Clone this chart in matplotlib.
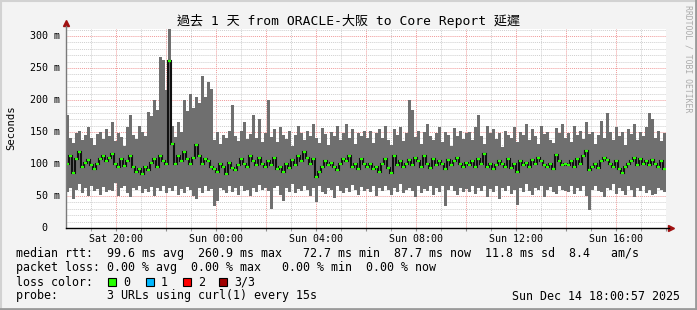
import numpy as np
import matplotlib
matplotlib.use("Agg")
import matplotlib.pyplot as plt
from matplotlib.transforms import Affine2D, blended_transform_factory, offset_copy
from matplotlib.patches import Rectangle
from matplotlib.lines import Line2D

# ---------------- data (ms), 200 buckets over 24 h ----------------
upper = [176, 140, 133, 148, 152, 137, 145, 158, 141, 130, 147, 150, 139, 155, 144, 166, 136, 149, 142, 128,
         158, 176, 146, 139, 160, 150, 143, 182, 175, 200, 185, 268, 262,
         215, 311, 160, 142, 165, 150, 200, 183, 210, 188, 205, 196, 237, 204, 228, 218, 138, 150, 131, 146,
         140, 152, 192, 144, 136, 151, 165, 139, 147, 176, 141, 170, 135, 149,
         200, 142, 155, 134, 158, 146, 139, 151, 128, 145, 160, 149, 137, 152, 143, 162, 140, 133, 156, 147,
         129, 150, 144, 160, 138, 148, 162, 141, 155, 131, 148, 143, 152,
         140, 152, 133, 148, 155, 141, 160, 138, 129, 155, 146, 158, 136, 148, 200, 184, 142, 152, 131, 150,
         162, 144, 137, 149, 158, 135, 150, 145, 128, 156, 143, 152, 139, 148,
         150, 137, 158, 176, 144, 132, 160, 148, 155, 139, 148, 127, 152, 146, 141, 158, 134, 150, 145, 162,
         138, 155, 143, 131, 160, 147, 150, 138, 133, 156, 149, 162, 140,
         148, 135, 160, 145, 152, 139, 165, 147, 150, 132, 146, 168, 141, 179, 150, 137, 158, 144, 150, 130,
         155, 147, 162, 138, 150, 143, 158, 179, 170, 141, 152, 136, 148]
lower = [57, 62, 45, 60, 68, 55, 63, 50, 66, 58, 61, 52, 64, 56, 60, 58, 70, 50, 62, 65,
         55, 48, 63, 60, 66, 54, 61, 57, 64, 50, 62, 58, 66,
         55, 62, 58, 66, 52, 61, 55, 64, 60, 50, 45, 62, 55, 65, 58, 61, 35, 42, 63, 60,
         54, 66, 57, 62, 51, 65, 58, 60, 50, 63, 56, 67, 60, 62,
         58, 30, 62, 66, 52, 42, 63, 57, 68, 54, 61, 58, 65, 60, 50, 62, 40, 66, 56, 53,
         63, 60, 47, 65, 58, 54, 62, 56, 67, 60, 52, 64, 58,
         61, 56, 66, 50, 62, 58, 65, 60, 52, 63, 57, 68, 54, 60, 62, 58, 49, 65, 54, 61,
         58, 66, 52, 62, 56, 65, 34, 60, 66, 58, 52, 63, 57, 61,
         56, 65, 53, 62, 58, 66, 49, 61, 57, 65, 45, 62, 58, 66, 53, 60, 36, 63, 56, 68,
         58, 51, 62, 60, 66, 49, 60, 64, 56, 53, 65, 60, 58,
         56, 65, 53, 62, 58, 66, 50, 28, 60, 65, 58, 56, 49, 63, 60, 68, 53, 62, 58, 51,
         65, 60, 48, 62, 58, 66, 55, 60, 51, 53, 63, 60, 56]
median = [100, 112, 86, 108, 118, 95, 102, 106, 98, 92, 100, 108, 112, 104, 110, 115, 100, 95, 108, 97,
          104, 112, 96, 88, 92, 85, 95, 90, 102, 108, 96, 112, 105,
          100, 261, 131, 100, 112, 105, 118, 108, 100, 110, 130, 112, 100, 108, 104, 96, 92, 88, 100, 96,
          85, 102, 94, 90, 98, 108, 100, 95, 112, 104, 98, 110, 100, 96,
          104, 98, 110, 92, 96, 88, 100, 93, 106, 98, 112, 104, 118, 110, 100, 108, 80, 88, 96, 104,
          98, 102, 96, 90, 100, 108, 104, 112, 96, 100, 92, 108, 100,
          95, 100, 92, 96, 88, 100, 108, 94, 86, 112, 98, 104, 96, 100, 106, 98, 110, 104, 96, 112,
          100, 94, 108, 98, 104, 100, 92, 106, 98, 104, 110, 100, 96, 102,
          98, 104, 96, 108, 100, 116, 96, 100, 92, 98, 104, 100, 96, 108, 94, 100, 88, 104, 98, 102,
          96, 106, 100, 110, 104, 98, 96, 100, 92, 114, 104, 98, 100,
          98, 104, 96, 108, 100, 112, 120, 90, 96, 100, 94, 104, 110, 106, 100, 96, 104, 92, 86, 96,
          100, 104, 110, 98, 108, 100, 104, 98, 106, 100, 96, 104, 92]

start_clock = (18, 0, 57)           # Sat 18:00:57
span_hours = 24
major_hours = [20, 22, 0, 2, 4, 6, 8, 10, 12, 14, 16, 18]
minor_hours = [19, 21, 23, 1, 3, 5, 7, 9, 11, 13, 15, 17]
xtick_text = {20: "Sat 20:00", 0: "Sun 00:00", 4: "Sun 04:00", 8: "Sun 08:00",
              12: "Sun 12:00", 16: "Sun 16:00"}
ytick_vals = [0, 50, 100, 150, 200, 250, 300]
ytick_labels = ["0", "50 m", "100 m", "150 m", "200 m", "250 m", "300 m"]

title = "過去 1 天 from ORACLE-大阪 to Core Report 延遲"
legend_rtt = "median rtt:  99.6 ms avg  260.9 ms max   72.7 ms min  87.7 ms now  11.8 ms sd  8.4   am/s"
legend_loss = "packet loss: 0.00 % avg  0.00 % max   0.00 % min  0.00 % now"
loss_names = ["0", "1", "2", "3/3"]
loss_colors = ["#26ff00", "#00b8ff", "#ff0000", "#a00000"]
probe_text = "probe:       3 URLs using curl(1) every 15s"
stamp_text = "Sun Dec 14 18:00:57 2025"

# ---------------- figure ----------------
W, H = 697, 310
fig = plt.figure(figsize=(W / 100, H / 100), dpi=100, facecolor="#f3f3f3")
px = Affine2D().scale(1 / W, -1 / H).translate(0, 1) + fig.transFigure

MONO = ["DejaVu Sans Mono", "Noto Sans CJK TC"]

ax = fig.add_axes([66 / W, 1 - 228 / H, 600 / W, 199 / H])
ax.set_facecolor("white")
ax.set_xlim(0, span_hours)
ax.set_ylim(0, 311)
for s in ax.spines.values():
    s.set_visible(False)

n = len(upper)
edges = np.linspace(0, span_hours, n + 1)
centers = (edges[:-1] + edges[1:]) / 2
up = np.array(upper, float)
lo = np.array(lower, float)
me = np.array(median, float)

t0 = start_clock[0] + start_clock[1] / 60 + start_clock[2] / 3600
def since(h):
    return (h - t0) % 24

maj = [since(h) for h in major_hours]
mino = [since(h) for h in minor_hours]
ax.set_xticks(maj)
ax.set_xticks(mino, minor=True)
ax.set_xticklabels([xtick_text.get(h, "") for h in major_hours])
ax.set_yticks(ytick_vals)
ax.set_yticks(np.arange(0, 311, 10), minor=True)
ax.set_yticklabels([])
ax.tick_params(axis="x", which="both", length=2, color="#909090", labelsize=7.2, pad=2.5)
ax.tick_params(axis="y", which="both", length=0)
for lab in ax.get_xticklabels():
    lab.set_fontfamily(MONO)

ax.set_axisbelow(True)
ax.grid(which="minor", color="#cfcfcf", linestyle=(0, (1, 1)), linewidth=0.7)
ax.grid(which="major", color="#f09a9a", linestyle=(0, (1, 1)), linewidth=0.7)

# smoke
ax.bar(centers, up - lo, bottom=lo, width=edges[1] - edges[0], color="#6f6f6f",
       linewidth=0, zorder=2)
# median
ax.stairs(me, edges, baseline=None, color="#111111", linewidth=1.5, zorder=3)
ax.hlines(me, edges[:-1], edges[1:], color=loss_colors[0], linewidth=1.6, zorder=4)

# axes lines + arrows
ax.add_line(Line2D([0, 0], [0, 1.015], transform=ax.transAxes, color="#7a7a7a",
                   linewidth=1, clip_on=False, zorder=5))
ax.add_line(Line2D([0, 1.005], [0, 0], transform=ax.transAxes, color="black",
                   linewidth=1, clip_on=False, zorder=5))
ax.plot([0], [1.028], marker="^", ms=5, color="#a01010", transform=ax.transAxes, clip_on=False)
ax.plot([1.009], [0], marker=">", ms=5, color="#a01010", transform=ax.transAxes, clip_on=False)

# y tick labels
tr = blended_transform_factory(ax.transAxes, ax.transData)
for v, lab in zip(ytick_vals, ytick_labels):
    dx = -6 if lab.endswith("m") else -19
    ax.text(0, v, lab, transform=offset_copy(tr, fig=fig, x=dx, y=0, units="dots"),
            ha="right", va="center", fontsize=7.2, family=MONO)

# texts
fig.text(348.5, 21.5, title, transform=px, ha="center", va="center", fontsize=9.4, family=MONO)
fig.text(11, 128, "Seconds", transform=px, ha="center", va="center", rotation=90,
         fontsize=7.6, family=MONO)
fig.text(688, 5, "RRDTOOL / TOBI OETIKER", transform=px, ha="center", va="top", rotation=270,
         fontsize=5.9, family=MONO, color="#ababab")

fig.text(16, 254, legend_rtt, transform=px, ha="left", va="center", fontsize=8.4, family=MONO)
fig.text(16, 268, legend_loss, transform=px, ha="left", va="center", fontsize=8.4, family=MONO)
fig.text(16, 282, "loss color:", transform=px, ha="left", va="center", fontsize=8.4, family=MONO)
box_x = [108, 146, 183, 219]
for bx, name, col in zip(box_x, loss_names, loss_colors):
    fig.patches.append(Rectangle((bx, 278), 8, 8, transform=px, facecolor=col,
                                 edgecolor="black", linewidth=0.8))
    fig.text(bx + 15, 282, name, transform=px, ha="left", va="center", fontsize=8.4, family=MONO)
fig.text(16, 296, probe_text, transform=px, ha="left", va="center", fontsize=8.4, family=MONO)
fig.text(680, 296, stamp_text, transform=px, ha="right", va="center", fontsize=8.4, family=MONO)

# 3D frame
fig.add_artist(Line2D([0.5, 0.5], [0, H], transform=px, color="#d2d2d2", linewidth=1.5))
fig.add_artist(Line2D([0, W], [0.5, 0.5], transform=px, color="#d2d2d2", linewidth=1.5))
fig.add_artist(Line2D([W - 1, W - 1], [0, H], transform=px, color="#9a9a9a", linewidth=2))
fig.add_artist(Line2D([0, W], [H - 1, H - 1], transform=px, color="#9a9a9a", linewidth=2))

fig.savefig("out.png", dpi=100, facecolor=fig.get_facecolor())
